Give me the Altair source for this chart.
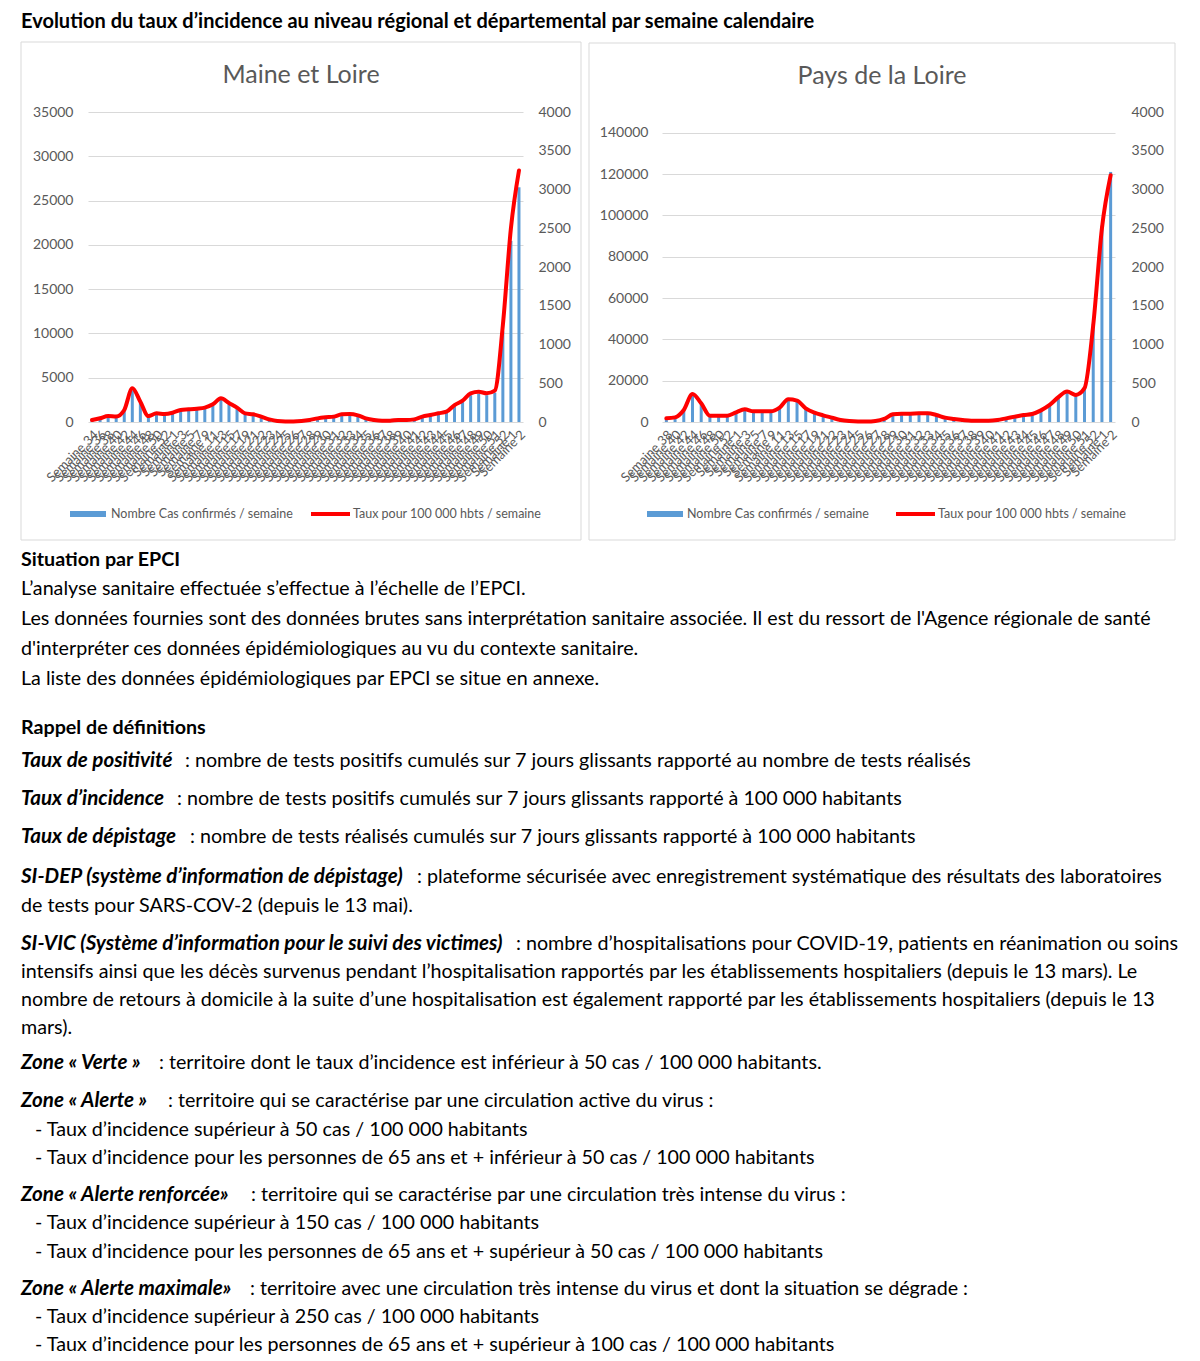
import altair as alt
import pandas as pd

FONT = "Lato"
GREY = "#595959"
GRID = "#d9d9d9"
BLUE = "#5b9bd5"
RED = "#ff0000"

HEADER = "Evolution du taux d’incidence au niveau régional et départemental par semaine calendaire"
LEG_BAR = "Nombre Cas confirmés / semaine"
LEG_LINE = "Taux pour 100 000 hbts / semaine"

# ---------------- data ----------------
ml_title = "Maine et Loire"
ml_weeks = [34, 36, 38, 40, 42, 44, 46, 48, 50, 52,
            1, 3, 5, 7, 9, 11, 13, 15, 17, 19, 21,
            22, 23, 24, 25, 26, 27, 28, 29, 30, 31, 32, 33, 34, 35, 36, 37, 38, 39, 40,
            41, 42, 43, 44, 45, 46, 47, 48, 49, 50, 51, 52,
            1, 2]
ml_cases = [210, 395, 630, 575, 1270, 3560, 2140, 630, 915, 845,
            980, 1270, 1335, 1405, 1515, 1865, 2495, 2005, 1515, 915,
            810, 565, 280, 105, 65, 65, 105, 215, 385, 490,
            565, 810, 845, 705, 385, 215, 140, 140, 215, 215,
            280, 565, 735, 915, 1090, 1790, 2250, 3025, 3200, 3025,
            3305, 10225, 20450, 26500]
ml_rates = [25, 48, 77, 70, 155, 435, 262, 77, 112, 103,
            120, 155, 163, 172, 185, 228, 305, 245, 185, 112,
            99, 69, 34, 13, 8, 8, 13, 26, 47, 60,
            69, 99, 103, 86, 47, 26, 17, 17, 26, 26,
            34, 69, 90, 112, 133, 219, 275, 370, 391, 370,
            404, 1250, 2500, 3245]

pdl_title = "Pays de la Loire"
pdl_weeks = [38, 40, 42, 44, 46, 48, 50, 52,
             1, 3, 5, 7, 9, 11, 13, 15, 17, 19, 21,
             22, 23, 24, 25, 26, 27, 28, 29, 30, 31, 32, 33, 34, 35, 36, 37, 38, 39, 40,
             41, 42, 43, 44, 45, 46, 47, 48, 49, 50, 51, 52,
             1, 2]
pdl_cases = [1820, 2280, 5890, 13760, 9160, 3120, 3120, 3120, 4750, 6230,
             5240, 5240, 5240, 7070, 11130, 10490, 6730, 4600, 3270, 2130,
             990, 460, 230, 190, 460, 1480, 3760, 4100, 4100, 4260,
             4260, 3420, 2130, 1480, 990, 650, 650, 650, 990, 1790,
             2620, 3420, 3950, 5700, 8360, 12160, 14930, 13300, 16570, 47500,
             95000, 121000]
pdl_rates = [48, 60, 155, 362, 241, 82, 82, 82, 125, 164,
             138, 138, 138, 186, 293, 276, 177, 121, 86, 56,
             26, 12, 6, 5, 12, 39, 99, 108, 108, 112,
             112, 90, 56, 39, 26, 17, 17, 17, 26, 47,
             69, 90, 104, 150, 220, 320, 393, 350, 436, 1250,
             2500, 3185]

ml_left_ticks = [0, 5000, 10000, 15000, 20000, 25000, 30000, 35000]
pdl_left_ticks = [0, 20000, 40000, 60000, 80000, 100000, 120000, 140000]
right_ticks = [0, 500, 1000, 1500, 2000, 2500, 3000, 3500, 4000]

BODY = [
    [("Situation par EPCI", "b")],
    [("L’analyse sanitaire effectuée s’effectue à l’échelle de l’EPCI.", "n")],
    [("Les données fournies sont des données brutes sans interprétation sanitaire associée. Il est du ressort de l'Agence régionale de santé", "n")],
    [("d'interpréter ces données épidémiologiques au vu du contexte sanitaire.", "n")],
    [("La liste des données épidémiologiques par EPCI se situe en annexe.", "n")],
    [("Rappel de définitions", "b")],
    [("Taux de positivité", "bi"), (": nombre de tests positifs cumulés sur 7 jours glissants rapporté au nombre de tests réalisés", "n")],
    [("Taux d’incidence", "bi"), (": nombre de tests positifs cumulés sur 7 jours glissants rapporté à 100 000 habitants", "n")],
    [("Taux de dépistage", "bi"), (": nombre de tests réalisés cumulés sur 7 jours glissants rapporté à 100 000 habitants", "n")],
    [("SI-DEP (système d’information de dépistage)", "bi"), (": plateforme sécurisée avec enregistrement systématique des résultats des laboratoires", "n")],
    [("de tests pour SARS-COV-2 (depuis le 13 mai).", "n")],
    [("SI-VIC (Système d’information pour le suivi des victimes)", "bi"), (": nombre d’hospitalisations pour COVID-19, patients en réanimation ou soins", "n")],
    [("intensifs ainsi que les décès survenus pendant l’hospitalisation rapportés par les établissements hospitaliers (depuis le 13 mars). Le", "n")],
    [("nombre de retours à domicile à la suite d’une hospitalisation est également rapporté par les établissements hospitaliers (depuis le 13", "n")],
    [("mars).", "n")],
    [("Zone « Verte »", "bi"), (": territoire dont le taux d’incidence est inférieur à 50 cas / 100 000 habitants.", "n")],
    [("Zone « Alerte »", "bi"), (": territoire qui se caractérise par une circulation active du virus :", "n")],
    [("- Taux d’incidence supérieur à 50 cas / 100 000 habitants", "n")],
    [("- Taux d’incidence pour les personnes de 65 ans et + inférieur à 50 cas / 100 000 habitants", "n")],
    [("Zone « Alerte renforcée»", "bi"), (": territoire qui se caractérise par une circulation très intense du virus :", "n")],
    [("- Taux d’incidence supérieur à 150 cas / 100 000 habitants", "n")],
    [("- Taux d’incidence pour les personnes de 65 ans et + supérieur à 50 cas / 100 000 habitants", "n")],
    [("Zone « Alerte maximale»", "bi"), (": territoire avec une circulation très intense du virus et dont la situation se dégrade :", "n")],
    [("- Taux d’incidence supérieur à 250 cas / 100 000 habitants", "n")],
    [("- Taux d’incidence pour les personnes de 65 ans et + supérieur à 100 cas / 100 000 habitants", "n")],
]

# ---------------- layout (absolute page pixels) ----------------
ORIGIN = (88, 112)          # top-left of the first plot area on the page
HEADER_POS = (21, 22)
TEXT_DY = 1.5
BODY_Y = [558, 587, 617, 647, 677, 726, 759, 797, 835, 875, 904, 942, 970, 998, 1026,
          1061, 1099, 1128, 1156, 1193, 1221, 1250, 1287, 1315, 1343]
BODY_X = [[21], [21], [21], [21], [21], [21], [21, 185], [21, 177], [21, 190], [21, 417],
          [21], [21, 516], [21], [21], [21], [21, 159], [21, 168], [35], [35], [21, 251],
          [35], [35], [21, 250], [35], [35]]
BODY_SIZE = 19.7
BI_SIZE = 20.6

dummy = pd.DataFrame({"a": [0]})


def rx(x):
    return x - ORIGIN[0]


def ry(y):
    return y - ORIGIN[1]


def panel(title, weeks, cases, rates, cmax, lticks, w, h, frame, title_pos, leg, lpad, rpad, extra=()):
    n = len(weeks)
    df = pd.DataFrame({"i": list(range(n)), "cases": cases, "rate": rates})
    labels = ["Semaine " + str(k) for k in weeks]
    expr = "[" + ",".join("'" + s + "'" for s in labels) + "][datum.value]"
    x = alt.X("i:O", title=None,
              scale=alt.Scale(paddingInner=0, paddingOuter=0),
              axis=alt.Axis(labelExpr=expr, labelAngle=-45, labelFont=FONT, labelFontSize=13,
                            labelColor=GREY, labelOverlap=False, ticks=False, domain=False,
                            labelPadding=6, grid=False))
    base = alt.Chart(df)
    bars = base.mark_bar(color=BLUE, size=3).encode(
        x=x,
        y=alt.Y("cases:Q", title=None, scale=alt.Scale(domain=[0, cmax], nice=False),
                axis=alt.Axis(values=lticks, format="d", grid=True, gridColor=GRID, domain=False,
                              ticks=False, labelFont=FONT, labelFontSize=14, labelColor=GREY,
                              labelPadding=lpad, orient="left")))
    line = base.mark_line(color=RED, strokeWidth=4, interpolate="monotone",
                          strokeJoin="round", strokeCap="round").encode(
        x=x,
        y=alt.Y("rate:Q", title=None, scale=alt.Scale(domain=[0, 4000], nice=False),
                axis=alt.Axis(values=right_ticks, format="d", grid=False, domain=False, ticks=False,
                              labelFont=FONT, labelFontSize=14, labelColor=GREY,
                              labelPadding=rpad, orient="right")))
    ann = alt.Chart(dummy)
    fx0, fx1, fy0, fy1 = frame
    frame_l = ann.mark_rect(fillOpacity=0, stroke=GRID, strokeWidth=1).encode(
        x=alt.value(fx0), x2=alt.value(fx1), y=alt.value(fy0), y2=alt.value(fy1))
    title_l = ann.mark_text(text=title, font=FONT, fontSize=25, color=GREY,
                            align="center", baseline="middle").encode(
        x=alt.value(title_pos[0]), y=alt.value(title_pos[1]))
    bx0, bx1, tx1, rx0, rx1, tx2, ly = leg
    leg_rect = ann.mark_rect(color=BLUE).encode(
        x=alt.value(bx0), x2=alt.value(bx1), y=alt.value(ly - 3), y2=alt.value(ly + 3))
    leg_t1 = ann.mark_text(text=LEG_BAR, font=FONT, fontSize=12.5, color=GREY,
                           align="left", baseline="middle").encode(
        x=alt.value(tx1), y=alt.value(ly))
    leg_rule = ann.mark_rule(color=RED, strokeWidth=4).encode(
        x=alt.value(rx0), x2=alt.value(rx1), y=alt.value(ly))
    leg_t2 = ann.mark_text(text=LEG_LINE, font=FONT, fontSize=12.5, color=GREY,
                           align="left", baseline="middle").encode(
        x=alt.value(tx2), y=alt.value(ly))
    return alt.layer(*extra, frame_l, bars, line, title_l, leg_rect, leg_t1, leg_rule,
                     leg_t2).resolve_scale(y="independent").properties(width=w, height=h)


# page-level texts, placed relative to the first plot's origin
page_layers = []
page_layers.append(
    alt.Chart(dummy).mark_rect(fill="white", fillOpacity=0).encode(
        x=alt.value(rx(8)), x2=alt.value(rx(1190)), y=alt.value(ry(8)), y2=alt.value(ry(1340))))
page_layers.append(
    alt.Chart(dummy).mark_text(text=HEADER, font=FONT, fontSize=20, fontWeight="bold",
                               align="left", baseline="middle", color="black").encode(
        x=alt.value(rx(HEADER_POS[0])), y=alt.value(ry(HEADER_POS[1]))))
style_map = {"n": ("normal", "normal", BODY_SIZE), "b": ("bold", "normal", BODY_SIZE),
             "bi": ("bold", "italic", BI_SIZE)}
for segs, y, xs in zip(BODY, BODY_Y, BODY_X):
    for (txt, st), xx in zip(segs, xs):
        fw, fs, sz = style_map[st]
        page_layers.append(
            alt.Chart(dummy).mark_text(text=txt, font=FONT, fontSize=sz, fontWeight=fw,
                                       fontStyle=fs, align="left", baseline="middle",
                                       color="black").encode(
                x=alt.value(rx(xx)), y=alt.value(ry(y + TEXT_DY))))

p1 = panel(ml_title, ml_weeks, ml_cases, ml_rates, 35000, ml_left_ticks, 435, 310,
           (rx(21), rx(581), ry(42), ry(540)), (rx(301), ry(75)),
           (rx(70), rx(106), rx(111), rx(311), rx(350), rx(353), ry(514)), 15, 15,
           extra=page_layers)

P2X = 662
p2 = panel(pdl_title, pdl_weeks, pdl_cases, pdl_rates, 150000, pdl_left_ticks, 453, 310,
           (589 - P2X, 1175 - P2X, ry(43), ry(540)), (882 - P2X, ry(76)),
           (647 - P2X, 683 - P2X, 687 - P2X, 896 - P2X, 935 - P2X, 938 - P2X, ry(514)), 14, 16)

chart = alt.hconcat(p1, p2, spacing=P2X - ORIGIN[0] - 435, bounds="flush").properties(
    padding={"left": 0, "top": 0, "right": 0, "bottom": 0}
).configure(font=FONT).configure_view(strokeWidth=0)

chart.save("out.html", embed_options={"renderer": "svg", "actions": False})
